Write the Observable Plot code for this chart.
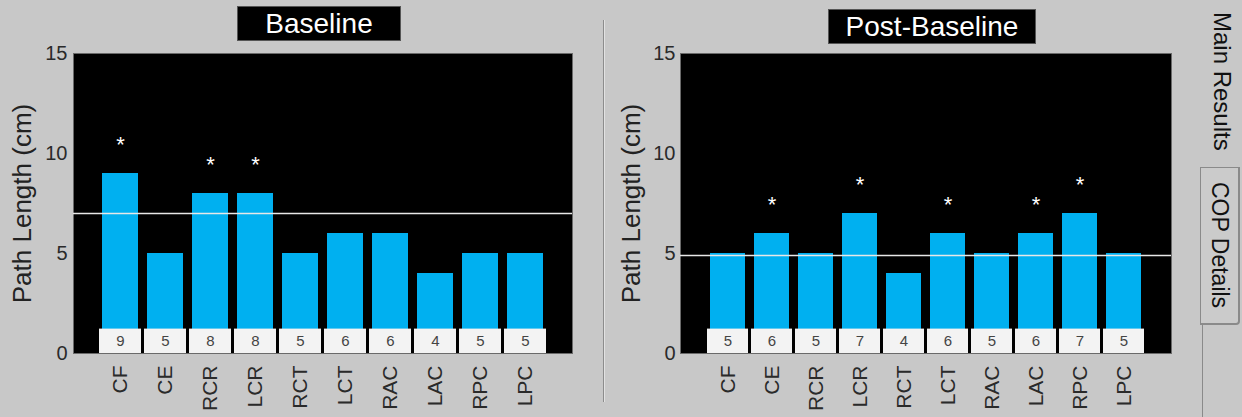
<!DOCTYPE html>
<html><head><meta charset="utf-8">
<script src="https://cdn.jsdelivr.net/npm/d3@7"></script>
<script src="https://cdn.jsdelivr.net/npm/@observablehq/plot@0.6"></script>
<style>
html,body{margin:0;padding:0;background:#c8c8c8;}
#root{position:relative;width:1242px;height:417px;overflow:hidden;background:#c8c8c8;font-family:Arial,"Liberation Sans",sans-serif;}
.panel{position:absolute;top:0;}
.title{position:absolute;background:#000;color:#fff;font-size:28px;line-height:33px;text-align:center;border:1px solid #555;box-sizing:border-box;}
.sep{position:absolute;left:603px;top:20px;width:1px;height:382px;background:#8c8c8c;border-right:1px solid #e2e2e2;}
.tab{position:absolute;writing-mode:vertical-rl;color:#111;display:flex;align-items:center;justify-content:center;box-sizing:border-box;}
</style></head>
<body><div id="root">
<div class="sep"></div>
<div class="tab" style="left:1200px;top:0;width:44px;height:162px;font-size:24px;">Main Results</div>
<div class="tab" style="left:1200px;top:167px;width:40px;height:158px;font-size:23px;border:1px solid #8a8a8a;border-right:2px solid #8a8a8a;border-bottom:2px solid #8a8a8a;border-radius:0 0 4px 0;background:#cbcbcb;">COP Details</div>
<div style="position:absolute;left:1202px;top:325px;width:1px;height:92px;background:#8a8a8a;"></div>
</div>
<script>
const categories = ["CF","CE","RCR","LCR","RCT","LCT","RAC","LAC","RPC","LPC"];
const baselineValues = [9,5,8,8,5,6,6,4,5,5];
const postValues = [5,6,5,7,4,6,5,6,7,5];
const baselineStars = ["CF","RCR","LCR"];
const postStars = ["CE","LCR","LCT","LAC","RPC"];
const baselineRef = 7;
const postRef = 4.9;
const yTicks = [0,5,10,15];
const titles = ["Baseline","Post-Baseline"];
const yLabel = "Path Length (cm)";

function panel(values, stars, ref, o) {
  const data = categories.map((c,i)=>({cat:c, value:values[i], star:stars.includes(c)}));
  return Plot.plot({
    width:o.width, height:417,
    marginLeft:o.ml, marginRight:o.mr, marginTop:53, marginBottom:64,
    style:{background:"transparent", fontFamily:'Arial,"Liberation Sans",sans-serif', fontSize:"20px", color:"#2a2a2a", overflow:"visible"},
    x:{domain:categories, paddingInner:0.2, paddingOuter:o.po},
    y:{domain:[0,15]},
    marks:[
      Plot.frame({fill:"#000", stroke:"#6a6a6a", strokeWidth:1}),
      Plot.barY(data, {x:"cat", y:"value", fill:"#00b0f0"}),
      Plot.ruleY([ref], {stroke:"#e8e8e8", strokeWidth:1.5}),
      Plot.barY(data, {x:"cat", y1:0, y2:1.22, fill:"#f3f3f3", insetLeft:-3, insetRight:-3}),
      Plot.text(data, {x:"cat", y:0.6, text:d=>String(d.value), fontSize:15, fill:"#444"}),
      Plot.text(data.filter(d=>d.star), {x:"cat", y:"value", text:()=>"*", dy:-29, fill:"#fff", fontSize:22}),
      Plot.axisX({tickRotate:-90, tickSize:0, tickPadding:12, fontSize:21, label:null, fill:"#2a2a2a"}),
      Plot.axisY({ticks:yTicks, tickSize:0, tickPadding:o.tp, fontSize:20, label:null, fill:"#2a2a2a"}),
      Plot.axisY({ticks:[], tickSize:0, fontSize:26, label:yLabel, labelAnchor:"center", labelArrow:"none", labelOffset:o.lo, fill:"#222"})
    ]
  });
}

const root = document.getElementById("root");
const p1 = panel(baselineValues, baselineStars, baselineRef, {width:595, ml:73, mr:23, po:0.57, tp:6, lo:61});
p1.classList.add("panel"); p1.style.left = "0px";
const p2 = panel(postValues, postStars, postRef, {width:600, ml:80, mr:29, po:0.63, tp:5, lo:59});
p2.classList.add("panel"); p2.style.left = "600px";
root.appendChild(p1); root.appendChild(p2);

const t1 = document.createElement("div"); t1.className="title"; t1.textContent=titles[0];
Object.assign(t1.style,{left:"237px", top:"6px", width:"164px", height:"35px"});
const t2 = document.createElement("div"); t2.className="title"; t2.textContent=titles[1];
Object.assign(t2.style,{left:"828px", top:"9px", width:"208px", height:"35px"});
root.appendChild(t1); root.appendChild(t2);
</script>
</body></html>
